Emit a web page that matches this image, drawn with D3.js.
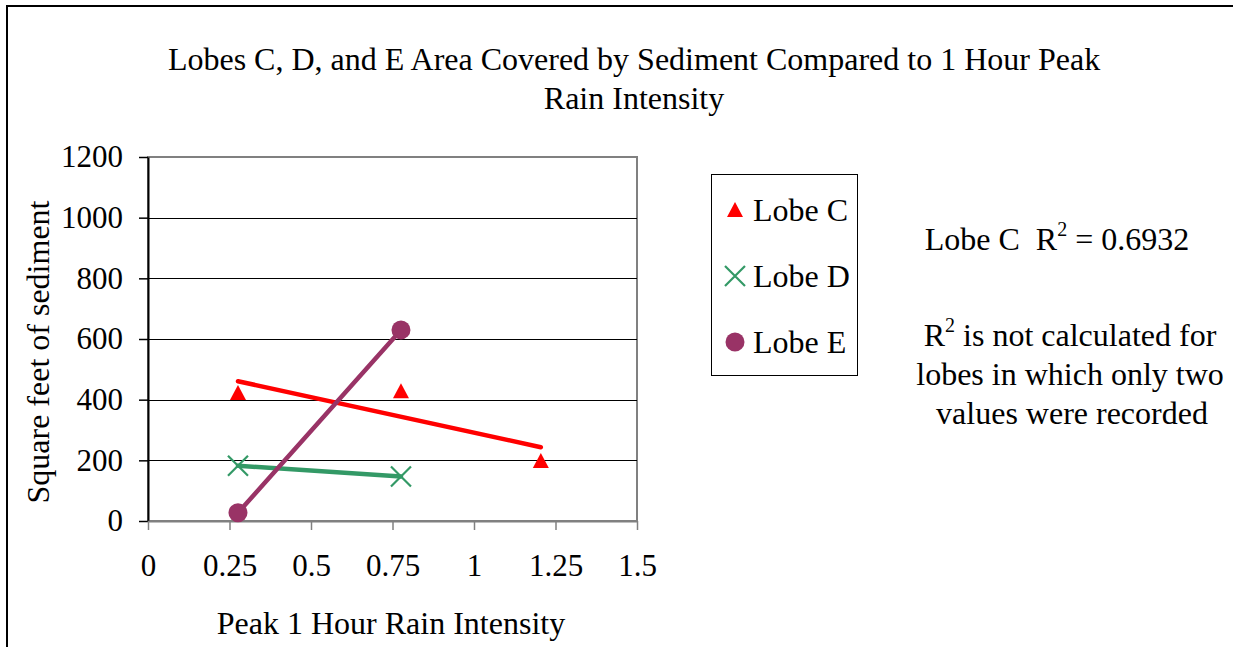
<!DOCTYPE html>
<html>
<head>
<meta charset="utf-8">
<script src="https://cdn.jsdelivr.net/npm/d3@7"></script>
<style>
  body { margin: 0; background: #fff; }
  svg { display: block; font-family: "Liberation Serif", "Times New Roman", serif; }
</style>
</head>
<body>
<svg width="1233" height="647"></svg>
<script>
// data
const LOBES = ['Lobe C', 'Lobe D', 'Lobe E'];
const COLORS = ['#ff0000', '#339966', '#993366'];
const LOBE_C = [[0.276, 422], [0.776, 428], [1.205, 198]];
const LOBE_D = [[0.276, 182], [0.776, 147]];
const LOBE_E = [[0.276, 27], [0.776, 630]];
const X_TICKS = [0, 0.25, 0.5, 0.75, 1, 1.25, 1.5];
const Y_TICKS = [0, 200, 400, 600, 800, 1000, 1200];

const PLOT = { left: 148, top: 157, right: 637, bottom: 521 };
const FS = '32px';

const svg = d3.select('svg');

// outer frame
svg.append('path')
    .attr('d', 'M7,660 V6 H1240')
    .attr('fill', 'none')
    .attr('stroke', '#000')
    .attr('stroke-width', 2);

const x = d3.scaleLinear().domain([0, 1.5]).range([PLOT.left, PLOT.right]);
const y = d3.scaleLinear().domain([0, 1200]).range([PLOT.bottom, PLOT.top]);

// plot area border (grey)
svg.append('rect')
    .attr('x', PLOT.left).attr('y', PLOT.top)
    .attr('width', PLOT.right - PLOT.left).attr('height', PLOT.bottom - PLOT.top)
    .attr('fill', 'none').attr('stroke', '#808080').attr('stroke-width', 2);

// gridlines
svg.append('g')
    .selectAll('line')
    .data(Y_TICKS.filter(d => d > 0 && d < 1200))
    .enter().append('line')
    .attr('x1', PLOT.left).attr('x2', PLOT.right)
    .attr('y1', d => Math.round(y(d)) + 0.5).attr('y2', d => Math.round(y(d)) + 0.5)
    .attr('stroke', '#000').attr('stroke-width', 1);

// axes
const yAxis = svg.append('g')
    .attr('transform', `translate(${PLOT.left},0)`)
    .call(d3.axisLeft(y).tickValues(Y_TICKS).tickSize(9).tickPadding(16).tickSizeOuter(0)
        .tickFormat(d => String(d)));
const xAxis = svg.append('g')
    .attr('transform', `translate(0,${PLOT.bottom})`)
    .call(d3.axisBottom(x).tickValues(X_TICKS).tickSize(9).tickPadding(24).tickSizeOuter(0)
        .tickFormat(d => String(d)));

[yAxis, xAxis].forEach(a => {
    a.attr('font-family', null).attr('font-size', null);
    a.select('.domain').attr('stroke', '#000').attr('stroke-width', 2);
    a.selectAll('.tick line').attr('stroke', '#000').attr('stroke-width', 1.5);
    a.selectAll('text')
        .attr('fill', '#000')
        .style('font-size', '31px');
});
xAxis.select('.domain').attr('stroke', '#808080');
xAxis.selectAll('.tick line').attr('stroke', '#808080');

// trendlines (least squares fit through each series)
function fit(pts) {
    const mx = d3.mean(pts, d => d[0]), my = d3.mean(pts, d => d[1]);
    const sxy = d3.sum(pts, d => (d[0] - mx) * (d[1] - my));
    const sxx = d3.sum(pts, d => (d[0] - mx) ** 2);
    const b = sxy / sxx;
    const x0 = d3.min(pts, d => d[0]), x1 = d3.max(pts, d => d[0]);
    return [[x0, my + b * (x0 - mx)], [x1, my + b * (x1 - mx)]];
}

const line = d3.line().x(d => x(d[0])).y(d => y(d[1]));
const series = [LOBE_C, LOBE_D, LOBE_E];
series.forEach((pts, i) => {
    svg.append('path')
        .attr('d', line(fit(pts)))
        .attr('fill', 'none')
        .attr('stroke', COLORS[i])
        .attr('stroke-width', 4.5)
        .attr('stroke-linecap', 'round');
});

// markers
function marker(g, i, cx, cy) {
    if (i === 0) {
        g.append('path')
            .attr('d', `M${cx},${cy - 8} L${cx + 8},${cy + 7} L${cx - 8},${cy + 7} Z`)
            .attr('fill', COLORS[0]);
    } else if (i === 1) {
        g.append('path')
            .attr('d', `M${cx - 10},${cy - 10} L${cx + 10},${cy + 10} M${cx - 10},${cy + 10} L${cx + 10},${cy - 10}`)
            .attr('stroke', COLORS[1]).attr('stroke-width', 2.2);
    } else {
        g.append('circle').attr('cx', cx).attr('cy', cy).attr('r', 9.5).attr('fill', COLORS[2]);
    }
}

const marks = svg.append('g');
series.forEach((pts, i) => {
    pts.forEach(p => marker(marks, i, x(p[0]), y(p[1])));
});

// title
const title = svg.append('text')
    .attr('text-anchor', 'middle')
    .style('font-size', FS);
title.append('tspan').attr('x', 634).attr('y', 70)
    .text('Lobes C, D, and E Area Covered by Sediment Compared to 1 Hour Peak');
title.append('tspan').attr('x', 634).attr('y', 109).text('Rain Intensity');

// axis titles
svg.append('text')
    .attr('x', 391).attr('y', 634)
    .attr('text-anchor', 'middle')
    .style('font-size', FS)
    .text('Peak 1 Hour Rain Intensity');
svg.append('text')
    .attr('transform', 'translate(49,352) rotate(-90)')
    .attr('text-anchor', 'middle')
    .style('font-size', FS)
    .text('Square feet of sediment');

// legend
const legend = svg.append('g');
legend.append('rect')
    .attr('x', 711.5).attr('y', 174.5).attr('width', 146).attr('height', 201)
    .attr('fill', '#fff').attr('stroke', '#000').attr('stroke-width', 1);
LOBES.forEach((name, i) => {
    const ly = 210 + i * 66;
    marker(legend, i, 735, ly);
    legend.append('text')
        .attr('x', 753).attr('y', ly + 11)
        .style('font-size', FS)
        .text(name);
});

// notes
const note1 = svg.append('text')
    .attr('x', 1057).attr('y', 250)
    .attr('text-anchor', 'middle')
    .style('font-size', FS);
note1.append('tspan').text('Lobe C\u00a0\u00a0R');
note1.append('tspan').attr('dy', -14).style('font-size', '20px').text('2');
note1.append('tspan').attr('dy', 14).text(' = 0.6932');

const note2 = svg.append('text')
    .attr('text-anchor', 'middle')
    .style('font-size', FS);
const l1 = note2.append('tspan').attr('x', 1070).attr('y', 346);
l1.append('tspan').text('R');
l1.append('tspan').attr('dy', -14).style('font-size', '20px').text('2');
l1.append('tspan').attr('dy', 14).text(' is not calculated for');
note2.append('tspan').attr('x', 1070).attr('y', 385).text('lobes in which only two');
note2.append('tspan').attr('x', 1072).attr('y', 424).text('values were recorded');
</script>
</body>
</html>
